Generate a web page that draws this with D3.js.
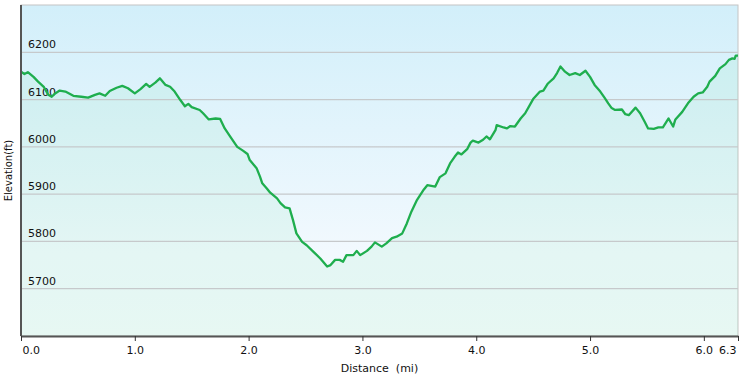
<!DOCTYPE html>
<html>
<head>
<meta charset="utf-8">
<script src="https://cdn.jsdelivr.net/npm/d3@7"></script>
<style>
  body { margin: 0; background: #fff; }
  text { font-family: "DejaVu Sans", Verdana, sans-serif; fill: #111; }
</style>
</head>
<body>
<div id="chart"></div>
<script>
// distance along trail (mi) and elevation (ft)
const distance = [0, 0.03, 0.06, 0.11, 0.15, 0.2, 0.24, 0.27, 0.3, 0.34, 0.39, 0.46, 0.53, 0.59, 0.65, 0.69, 0.74, 0.78, 0.84, 0.89, 0.94,
  1.0, 1.05, 1.1, 1.13, 1.18, 1.22, 1.27, 1.31, 1.35, 1.4, 1.44, 1.47, 1.5, 1.57, 1.6, 1.65, 1.71, 1.75, 1.79, 1.84, 1.9, 1.95, 1.99,
  2.01, 2.07, 2.1, 2.12, 2.16, 2.19, 2.25, 2.28, 2.32, 2.36, 2.39, 2.42, 2.47, 2.51, 2.57, 2.63, 2.69, 2.72, 2.76, 2.8, 2.83, 2.86, 2.92, 2.95, 2.98,
  3.04, 3.08, 3.11, 3.17, 3.21, 3.26, 3.3, 3.35, 3.39, 3.43, 3.48, 3.54, 3.57, 3.64, 3.68, 3.73, 3.77, 3.81, 3.84, 3.87, 3.92, 3.95, 3.97,
  4.02, 4.06, 4.09, 4.12, 4.17, 4.18, 4.24, 4.27, 4.3, 4.34, 4.39, 4.43, 4.5, 4.56, 4.59, 4.63, 4.68, 4.71, 4.74, 4.78, 4.82, 4.87, 4.91, 4.96,
  5.0, 5.04, 5.09, 5.13, 5.16, 5.19, 5.22, 5.28, 5.31, 5.34, 5.4, 5.44, 5.48, 5.51, 5.56, 5.6, 5.64, 5.69, 5.73, 5.75, 5.81, 5.86, 5.91, 5.95, 5.99,
  6.03, 6.05, 6.1, 6.14, 6.19, 6.22, 6.25, 6.27, 6.28, 6.3];
const elevation = [6159, 6154, 6158, 6148, 6138, 6127, 6110, 6106, 6113, 6119, 6117, 6108, 6106, 6104, 6110, 6113, 6108, 6118, 6125, 6129, 6124,
  6113, 6122, 6133, 6127, 6136, 6145, 6131, 6127, 6117, 6099, 6086, 6091, 6084, 6078, 6071, 6058, 6060, 6059, 6039, 6021, 6000, 5992, 5985,
  5972, 5955, 5937, 5923, 5912, 5903, 5891, 5881, 5872, 5870, 5845, 5817, 5799, 5792, 5778, 5764, 5747, 5750, 5761, 5761, 5757, 5771, 5771, 5780, 5771,
  5780, 5789, 5798, 5789, 5796, 5807, 5810, 5817, 5838, 5863, 5888, 5910, 5919, 5916, 5936, 5944, 5965, 5979, 5988, 5984, 5995, 6009, 6013,
  6009, 6015, 6022, 6016, 6036, 6046, 6041, 6039, 6044, 6043, 6060, 6071, 6101, 6117, 6119, 6134, 6145, 6156, 6170, 6159, 6152, 6156, 6152, 6161,
  6148, 6131, 6117, 6103, 6092, 6082, 6078, 6079, 6069, 6067, 6083, 6071, 6053, 6039, 6038, 6041, 6041, 6060, 6043, 6058, 6074, 6092, 6106, 6113, 6115,
  6127, 6138, 6150, 6166, 6175, 6184, 6187, 6186, 6193, 6193];

const xTicks = [0, 1, 2, 3, 4, 5, 6, 6.3];
const yTicks = [5700, 5800, 5900, 6000, 6100, 6200];

const W = 746, H = 378;
const m = { left: 21, right: 8, top: 5, bottom: 42 };

const svg = d3.select("#chart").append("svg")
  .attr("width", W).attr("height", H);

const x = d3.scaleLinear().domain([0, 6.3]).range([m.left, W - m.right]);
const y = d3.scaleLinear().domain([5600, 6300]).range([H - m.bottom, m.top]);

const defs = svg.append("defs");
const bg = defs.append("linearGradient").attr("id", "bg")
  .attr("x1", 0).attr("y1", 0).attr("x2", 0).attr("y2", 1);
bg.append("stop").attr("offset", "0%").attr("stop-color", "#d2effa");
bg.append("stop").attr("offset", "75%").attr("stop-color", "#f2f9fe");
bg.append("stop").attr("offset", "100%").attr("stop-color", "#f6fbfd");

svg.append("rect")
  .attr("x", x(0)).attr("y", y(6300))
  .attr("width", x(6.3) - x(0)).attr("height", y(5600) - y(6300))
  .attr("fill", "url(#bg)")
  .attr("stroke", "#c4c4c4");

const pts = distance.map((d, i) => [d, elevation[i]]);

svg.append("path")
  .datum(pts)
  .attr("fill", "#3cd27a")
  .attr("fill-opacity", 0.075)
  .attr("d", d3.area().x(d => x(d[0])).y0(y(5600)).y1(d => y(d[1])));

// gridlines
svg.append("g").selectAll("line").data(yTicks).join("line")
  .attr("x1", x(0)).attr("x2", x(6.3))
  .attr("y1", d => y(d)).attr("y2", d => y(d))
  .attr("stroke", "#c6c9cb").attr("stroke-width", 1.2);

svg.append("g").selectAll("text").data(yTicks).join("text")
  .attr("x", x(0) + 7).attr("y", d => y(d) - 4)
  .attr("font-size", 11)
  .text(d => d);

svg.append("path")
  .datum(pts)
  .attr("fill", "none")
  .attr("stroke", "#1fae4e")
  .attr("stroke-width", 2.3)
  .attr("stroke-linejoin", "round")
  .attr("d", d3.line().x(d => x(d[0])).y(d => y(d[1])));

// axes
const xAxis = svg.append("g")
  .attr("transform", `translate(0,${y(5600)})`)
  .call(d3.axisBottom(x).tickValues(xTicks).tickSize(5).tickSizeOuter(0).tickFormat(d3.format(".1f")));
xAxis.select(".domain").attr("stroke", "#555").attr("stroke-width", 2);
xAxis.selectAll(".tick line").attr("stroke", "#333");
xAxis.selectAll(".tick text").attr("font-size", 11).attr("dy", "0.95em")
  .attr("font-family", "DejaVu Sans, Verdana, sans-serif").attr("fill", "#111");
xAxis.selectAll(".tick text").filter(d => d === 0).attr("text-anchor", "start").attr("dx", 1);
xAxis.selectAll(".tick text").filter(d => d === 6.3).attr("text-anchor", "end").attr("dx", -2);

svg.append("line")
  .attr("x1", x(0)).attr("x2", x(0))
  .attr("y1", y(6300)).attr("y2", y(5600))
  .attr("stroke", "#555").attr("stroke-width", 2);

svg.append("text")
  .attr("x", (x(0) + x(6.3)) / 2).attr("y", 372)
  .attr("text-anchor", "middle").attr("font-size", 11)
  .attr("xml:space", "preserve")
  .text("Distance  (mi)");

svg.append("text")
  .attr("transform", `translate(12,${(y(5600) + y(6300)) / 2}) rotate(-90)`)
  .attr("text-anchor", "middle").attr("font-size", 10)
  .text("Elevation(ft)");
</script>
</body>
</html>
